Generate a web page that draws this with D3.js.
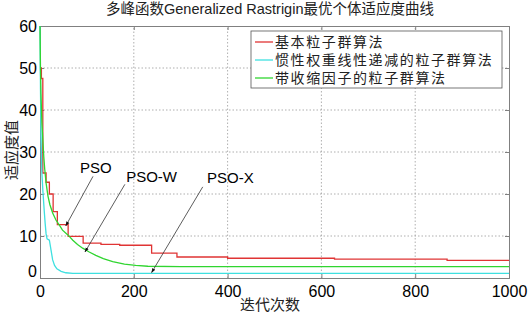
<!DOCTYPE html>
<html>
<head>
<meta charset="utf-8">
<script src="https://cdn.jsdelivr.net/npm/d3@7"></script>
<style>
  body { margin: 0; background: #fff; }
  text { font-family: "Liberation Sans", Arial, "Noto Sans CJK SC", sans-serif; }
  .cjk { font-family: "Noto Sans CJK SC", sans-serif; }
</style>
</head>
<body>
<div id="chart"></div>
<script>
// chart values (iteration, fitness)
var title = "多峰函数Generalized Rastrigin最优个体适应度曲线";
var xLabel = "迭代次数";
var yLabel = "适应度值";
var xTicks = [0, 200, 400, 600, 800, 1000];
var yTicks = [0, 10, 20, 30, 40, 50, 60];

var seriesNames = ["基本粒子群算法", "惯性权重线性递减的粒子群算法", "带收缩因子的粒子群算法"];
var seriesColors = ["#e03434", "#3ee0e0", "#30d530"];

// basic PSO - a step curve
var psoRed = [[0,50],[3,47.5],[6,25],[13,22.8],[20,20],[28,15.8],[37,12.7],[60,9.9],[92,8.3],
  [130,8.0],[170,7.8],[238,5.9],[292,5.0],[400,4.7],[628,4.5],[868,4.2],[1000,4.2]];
// linearly decreasing inertia weight
var psoCyan = [[0,60],[1,45],[2,35],[4,25],[6,21],[9,16],[11,13],[13,10.5],[15,9.3],[20,9],
  [23,7],[27,4.3],[31,3],[36,2.2],[45,1.6],[55,1.25],[70,1.1],[1000,1.1]];
// constriction factor
var psoGreen = [[0,60],[1,50],[2,44],[4,37],[6,33],[8,29],[10,26],[13,22.6],[17,19.5],[21,17.5],
  [27,15.5],[34,13.8],[43,12.3],[48,11.4],[60,10.2],[70,9.0],[80,8.0],[91,7.1],[105,6.2],
  [119,5.4],[135,4.6],[155,3.9],[180,3.3],[204,3.0],[230,2.8],[300,2.72],[1000,2.7]];

// annotations: label, text anchor point, arrow start, arrow tip (data coords)
var notes = [
  {label: "PSO",   text: [119, 25.0], from: [113, 24.2], to: [55, 12.4]},
  {label: "PSO-W", text: [238, 22.9], from: [181, 22.3], to: [96, 6.2]},
  {label: "PSO-X", text: [406, 22.6], from: [347, 21.7], to: [238, 1.3]}
];

var width = 532, height = 314;
var x = d3.scaleLinear().domain([0, 1000]).range([40, 509]);
var y = d3.scaleLinear().domain([0, 60]).range([278, 26]);

var svg = d3.select("#chart").append("svg")
  .attr("width", width)
  .attr("height", height);

// grid (dotted)
svg.append("g").selectAll("line")
  .data(xTicks.slice(1, -1))
  .enter().append("line")
  .attr("x1", d => x(d)).attr("x2", d => x(d))
  .attr("y1", y(0)).attr("y2", y(60))
  .attr("stroke", "#9a9a9a").attr("stroke-width", 0.8).attr("stroke-dasharray", "1.5,2");
svg.append("g").selectAll("line")
  .data(yTicks.slice(1, -1))
  .enter().append("line")
  .attr("x1", x(0)).attr("x2", x(1000))
  .attr("y1", d => y(d)).attr("y2", d => y(d))
  .attr("stroke", "#9a9a9a").attr("stroke-width", 0.8).attr("stroke-dasharray", "1.5,2");

// axes (ticks inward)
var xAxis = svg.append("g").attr("transform", "translate(0," + y(0) + ")")
  .call(d3.axisBottom(x).tickValues(xTicks).tickFormat(d3.format("d")).tickSize(-4).tickPadding(8));
var yAxis = svg.append("g").attr("transform", "translate(" + x(0) + ",0)")
  .call(d3.axisLeft(y).tickValues(yTicks).tickSize(-4).tickPadding(3));
svg.append("g").attr("transform", "translate(0," + y(60) + ")")
  .call(d3.axisTop(x).tickValues(xTicks).tickSize(-4).tickFormat(""));
svg.append("g").attr("transform", "translate(" + x(1000) + ",0)")
  .call(d3.axisRight(y).tickValues(yTicks).tickSize(-4).tickFormat(""));

svg.selectAll(".domain, .tick line").attr("stroke", "#808080");
xAxis.selectAll("text").attr("font-size", 16).attr("fill", "#000");
yAxis.selectAll("text").attr("font-size", 16).attr("fill", "#000");
yAxis.selectAll(".tick").filter(d => d == 0).select("text").attr("dy", "-0.1em");

// series
var line = d3.line().x(d => x(d[0])).y(d => y(d[1]));
var stepLine = d3.line().x(d => x(d[0])).y(d => y(d[1])).curve(d3.curveStepAfter);

var plot = svg.append("g");
plot.append("path").datum(psoRed).attr("d", stepLine)
  .attr("fill", "none").attr("stroke", seriesColors[0]).attr("stroke-width", 1.3);
plot.append("path").datum(psoCyan).attr("d", line)
  .attr("fill", "none").attr("stroke", seriesColors[1]).attr("stroke-width", 1.3);
plot.append("path").datum(psoGreen).attr("d", line)
  .attr("fill", "none").attr("stroke", seriesColors[2]).attr("stroke-width", 1.3);

// annotations
svg.append("defs").append("marker")
  .attr("id", "arrow")
  .attr("viewBox", "0 0 10 10")
  .attr("refX", 9).attr("refY", 5)
  .attr("markerWidth", 6).attr("markerHeight", 6)
  .attr("orient", "auto")
  .append("path").attr("d", "M0,1.5 L10,5 L0,8.5 Z").attr("fill", "#111");

var ann = svg.append("g").selectAll("g").data(notes).enter().append("g");
ann.append("line")
  .attr("x1", d => x(d.from[0])).attr("y1", d => y(d.from[1]))
  .attr("x2", d => x(d.to[0])).attr("y2", d => y(d.to[1]))
  .attr("stroke", "#333").attr("stroke-width", 0.8)
  .attr("marker-end", "url(#arrow)");
ann.append("text")
  .attr("x", d => x(d.text[0])).attr("y", d => y(d.text[1]))
  .attr("text-anchor", "middle")
  .attr("font-size", 15)
  .attr("fill", "#000")
  .text(d => d.label);

// legend
var lg = svg.append("g").attr("transform", "translate(251,31)");
lg.append("rect").attr("width", 251).attr("height", 57)
  .attr("fill", "#fff").attr("stroke", "#555").attr("stroke-width", 0.8);
var rows = lg.selectAll("g").data(seriesNames).enter().append("g")
  .attr("transform", (d, i) => "translate(0," + (11 + i * 18) + ")");
rows.append("line").attr("x1", 4).attr("x2", 22).attr("y1", 0).attr("y2", 0)
  .attr("stroke", (d, i) => seriesColors[i]).attr("stroke-width", 1.3);
rows.append("text").attr("class", "cjk")
  .attr("x", 24).attr("y", 0).attr("dy", "0.36em")
  .attr("font-size", 14).attr("letter-spacing", 1.6).attr("fill", "#222")
  .text(d => d);

// title and axis labels
svg.append("text").attr("x", 270).attr("y", 14)
  .attr("text-anchor", "middle").attr("font-size", 14.5).attr("fill", "#222")
  .text(title);
svg.append("text").attr("class", "cjk").attr("x", 270).attr("y", 310)
  .attr("text-anchor", "middle").attr("font-size", 15).attr("fill", "#222")
  .text(xLabel);
svg.append("text").attr("class", "cjk")
  .attr("transform", "translate(17,150) rotate(-90)")
  .attr("text-anchor", "middle").attr("font-size", 15).attr("fill", "#222")
  .text(yLabel);
</script>
</body>
</html>
